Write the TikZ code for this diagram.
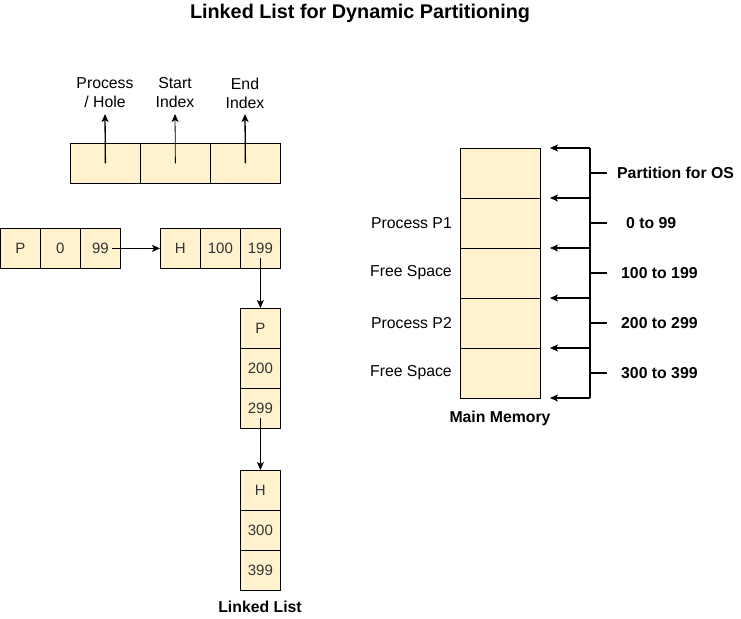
\documentclass[tikz,border=0pt]{standalone}
\usepackage{fontspec}
\setmainfont{Liberation Sans}
\usetikzlibrary{arrows.meta}
\definecolor{cellfill}{HTML}{FFF2CC}
\definecolor{celltext}{HTML}{333333}
\tikzset{
  cell/.style={draw=black, fill=cellfill, line width=0.8pt, minimum width=40pt, minimum height=40pt, inner sep=0pt, font=\fontsize{15}{17}\selectfont, text=celltext, anchor=north west},
  hcell/.style={cell, minimum width=70pt},
  mcell/.style={draw=black, fill=cellfill, line width=0.8pt, minimum width=80pt, minimum height=50pt, inner sep=0pt, anchor=north west},
  lbl/.style={font=\fontsize{15.8}{19}\selectfont, align=center, inner sep=0pt},
  blbl/.style={font=\bfseries\fontsize{15.8}{19}\selectfont, inner sep=0pt},
  arr/.style={draw=black, line width=1.3pt, -{Stealth[length=8pt,width=7pt,inset=2pt]}},
  ln/.style={draw=black, line width=1.3pt}
}
\begin{document}
\begin{tikzpicture}[x=1pt,y=-1pt]
\useasboundingbox (0,0) rectangle (741,618);
% title
\node[font=\bfseries\fontsize{19.8}{22}\selectfont, inner sep=0pt] (title) at (360,13) {Linked List for Dynamic Partitioning};
% header structure
\node[hcell] (h1) at (70,143) {};
\node[hcell] (h2) at (140,143) {};
\node[hcell] (h3) at (210,143) {};
\node[lbl] (t1) at (105,93) {Process\\/ Hole};
\node[lbl] (t2) at (175,93) {Start\\Index};
\node[lbl] (t3) at (245,93) {End\\Index};
\coordinate (e1) at (105,114);
\coordinate (e2) at (175,114);
\coordinate (e3) at (245,114);
\draw[arr] (h1.center) -- (e1);
\draw[arr, line width=0.8pt] (h2.center) -- (e2);
\draw[arr] (h3.center) -- (e3);
% first row
\node[cell] (a1) at (0,228) {P};
\node[cell] (a2) at (40,228) {0};
\node[cell] (a3) at (80,228) {99};
\node[cell] (b1) at (160,228) {H};
\node[cell] (b2) at (200,228) {100};
\node[cell] (b3) at (240,228) {199};
\draw[arr] ([xshift=12pt]a3.center) -- (b1.west);
% second node
\node[cell] (c1) at (240,308) {P};
\node[cell] (c2) at (240,348) {200};
\node[cell] (c3) at (240,388) {299};
\draw[arr, line width=0.8pt] ([yshift=-10pt]b3.center) -- (c1.north);
% third node
\node[cell] (d1) at (240,470) {H};
\node[cell] (d2) at (240,510) {300};
\node[cell] (d3) at (240,550) {399};
\draw[arr, line width=0.8pt] ([yshift=-10pt]c3.center) -- (d1.north);
\node[blbl] (ll) at (260,607) {Linked List};
% main memory
\node[mcell] (m1) at (460,148) {};
\node[mcell] (m2) at (460,198) {};
\node[mcell] (m3) at (460,248) {};
\node[mcell] (m4) at (460,298) {};
\node[mcell] (m5) at (460,348) {};
\node[blbl] (mm) at (500,418) {Main Memory};
\node[lbl, anchor=east] (p1) at (452,223) {Process P1};
\node[lbl, anchor=east] (f1) at (452,273) {Free Space};
\node[lbl, anchor=east] (p2) at (452,323) {Process P2};
\node[lbl, anchor=east] (f2) at (452,373) {Free Space};
% address arrows
\coordinate (v0) at (590,148);
\coordinate (v1) at (590,198);
\coordinate (v2) at (590,248);
\coordinate (v3) at (590,298);
\coordinate (v4) at (590,348);
\coordinate (v5) at (590,398);
\draw[ln] (v0) -- (v5);
\foreach \i in {0,...,5}{
  \draw[arr] (v\i) -- ++(-40,0);
}
\coordinate (k1) at (590,173);
\coordinate (k2) at (590,223);
\coordinate (k3) at (590,273);
\coordinate (k4) at (590,323);
\coordinate (k5) at (590,373);
\foreach \i in {1,...,5}{
  \draw[ln] (k\i) -- ++(17,0);
}
\node[blbl, anchor=west] (r1) at (617,173) {Partition for OS};
\node[blbl, anchor=west] (r2) at (626,223) {0 to 99};
\node[blbl, anchor=west] (r3) at (621,273) {100 to 199};
\node[blbl, anchor=west] (r4) at (621,323) {200 to 299};
\node[blbl, anchor=west] (r5) at (621,373) {300 to 399};
\end{tikzpicture}
\end{document}
